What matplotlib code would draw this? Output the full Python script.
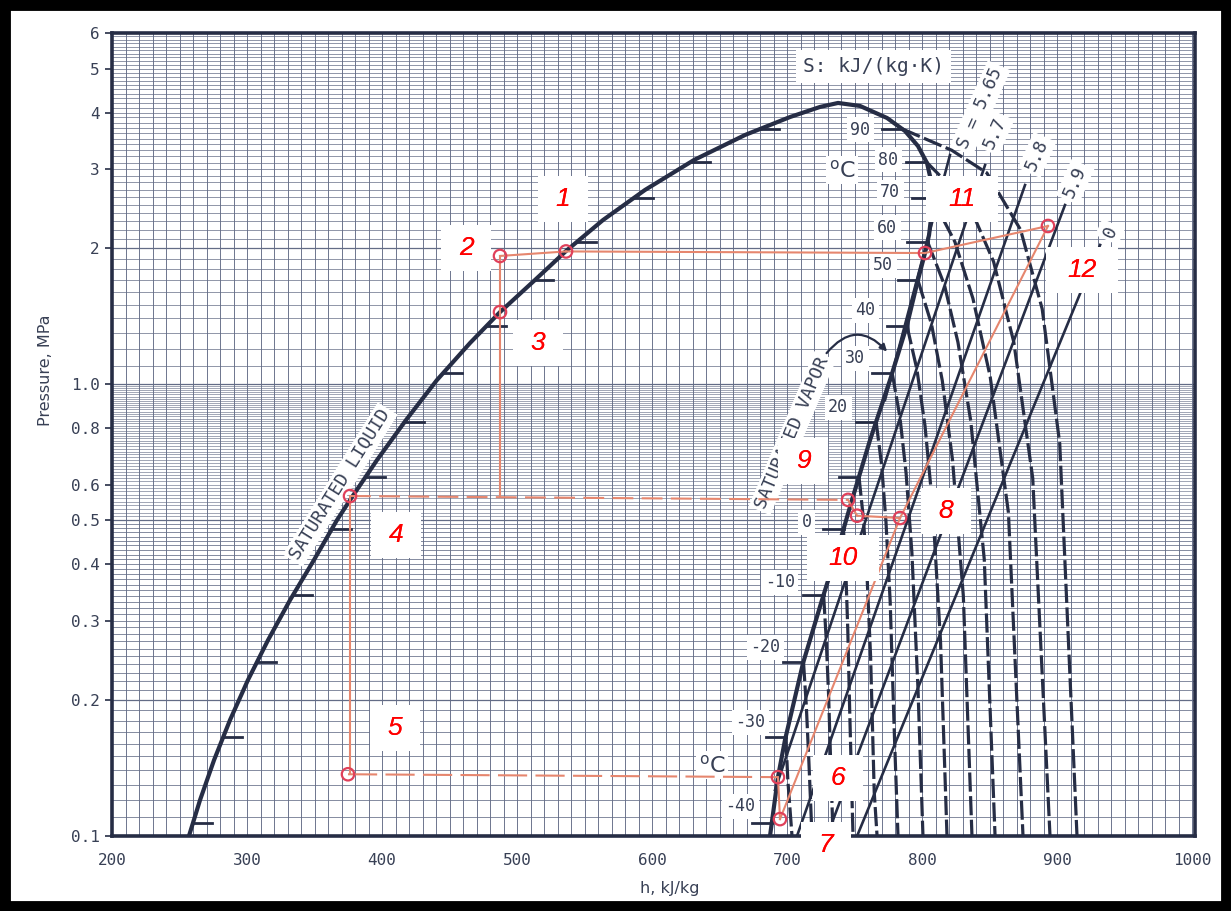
import numpy as np
import matplotlib
matplotlib.use("Agg")
import matplotlib.pyplot as plt
from matplotlib.patches import Rectangle
from matplotlib import transforms

# ---------------- data ----------------
# saturation dome (h in kJ/kg, P in MPa)
liq_h = [257.0, 265.2, 275.6, 287.4, 300.7, 315.6, 331.9, 349.6, 366.7, 377.8, 396.3, 417.8,
         440.7, 465.2, 487.4, 513.3, 536.3, 563.7, 594.8, 631.1, 668.9, 702.2, 724.4, 737.8]
liq_p = [0.100, 0.1201, 0.1473, 0.1806, 0.2215, 0.2716, 0.3331, 0.4085, 0.5009, 0.5632, 0.6801,
         0.834, 1.0226, 1.235, 1.446, 1.703, 1.974, 2.312, 2.695, 3.140, 3.567, 3.909, 4.115, 4.200]
vap_h = [737.8, 754.1, 774.1, 787.4, 797.0, 803.7, 807.4, 807.4, 805.2, 802.2, 797.0, 788.9,
         776.3, 761.5, 748.1, 736.3, 725.9, 711.9, 698.5, 693.3, 687.4]
vap_p = [4.200, 4.136, 3.890, 3.640, 3.372, 3.092, 2.764, 2.433, 2.142, 1.954, 1.703, 1.354,
         1.0226, 0.7531, 0.5546, 0.4189, 0.3331, 0.2416, 0.1632, 0.1351, 0.100]

# saturation temperature marks
sat_T = [-40, -30, -20, -10, 0, 10, 20, 30, 40, 50, 60, 70, 80, 90]
sat_P = [0.107, 0.166, 0.243, 0.342, 0.478, 0.625, 0.827, 1.06, 1.35, 1.70, 2.07, 2.59, 3.11, 3.68]
# visible temperature labels (the 10 label is hidden under box 9 in the chart)
T_lab = ["-40", "-30", "-20", "-10", "0", "20", "30", "40", "50", "60", "70", "80", "90"]
T_lab_h = [665.2, 672.6, 683.7, 694.8, 714.8, 737.8, 750.4, 757.8, 771.1, 774.1, 776.3, 774.8, 754.1]
T_lab_p = [0.1165, 0.1788, 0.262, 0.365, 0.4958, 0.891, 1.144, 1.461, 1.838, 2.220, 2.667, 3.140, 3.659]

# isentropes (solid)
s_h = [[772.6, 820.7], [691.1, 846.7], [707.4, 876.3], [729.6, 905.9], [751.9, 931.9]]
s_p = [[0.9236, 3.221], [0.1264, 3.060], [0.100, 2.764], [0.100, 2.496], [0.100, 2.036]]
s_lab_text = ["S = 5.65", "5.7", "5.8", "5.9", "0"]
s_lab_h = [843.0, 854.1, 885.2, 913.3, 939.3]
s_lab_p = [4.09, 3.604, 3.222, 2.806, 2.176]

# isotherms (dashed), -30 ... 90 degC
iso_h = [[699.1, 700.6, 703.7],
         [712.2, 714.3, 716.2, 718.5],
         [727.1, 729.0, 730.8, 732.6, 734.1],
         [741.8, 743.6, 745.0, 746.4, 748.0, 748.9],
         [753.3, 756.7, 759.3, 761.9, 764.6, 766.7],
         [766.0, 770.1, 773.3, 776.4, 779.6, 782.2],
         [777.9, 783.6, 788.2, 792.5, 797.0, 800.7],
         [788.8, 796.2, 802.2, 807.8, 813.7, 818.5],
         [797.0, 807.0, 815.0, 822.6, 830.6, 837.0],
         [804.1, 816.6, 826.6, 836.1, 846.1, 854.1],
         [807.4, 824.3, 837.7, 850.5, 864.0, 874.8],
         [803.2, 835.0, 853.0, 868.0, 882.0, 894.8],
         [785.3, 822.0, 848.0, 873.0, 889.0, 902.0, 914.8]]
iso_p = [[0.166, 0.133, 0.10],
         [0.243, 0.194, 0.146, 0.10],
         [0.342, 0.274, 0.205, 0.137, 0.10],
         [0.478, 0.382, 0.287, 0.191, 0.125, 0.10],
         [0.625, 0.50, 0.375, 0.25, 0.125, 0.10],
         [0.827, 0.662, 0.496, 0.331, 0.165, 0.10],
         [1.06, 0.848, 0.636, 0.424, 0.212, 0.10],
         [1.35, 1.08, 0.81, 0.54, 0.27, 0.10],
         [1.70, 1.36, 1.02, 0.68, 0.34, 0.10],
         [2.07, 1.66, 1.24, 0.83, 0.41, 0.10],
         [2.59, 2.07, 1.55, 1.04, 0.52, 0.10],
         [3.11, 2.49, 1.87, 1.24, 0.62, 0.10],
         [3.68, 3.30, 2.94, 2.20, 1.47, 0.74, 0.10]]

# cycle state points
pt_names = ["1", "2", "3", "4", "5", "6", "7", "8", "9", "10", "11", "12"]
pt_h = [536.3, 487.4, 487.4, 376.3, 374.8, 693.3, 694.8, 783.7, 745.2, 751.9, 802.2, 893.3]
pt_p = [1.970, 1.925, 1.446, 0.566, 0.137, 0.135, 0.109, 0.506, 0.555, 0.512, 1.954, 2.243]
lab_h = [534.1, 462.2, 515.6, 410.4, 409.6, 737.8, 728.9, 817.8, 711.9, 741.5, 829.6, 918.5]
lab_p = [2.574, 2.004, 1.235, 0.464, 0.1734, 0.1344, 0.0955, 0.5244, 0.6766, 0.4126, 2.574, 1.792]

x_ticks = [200, 300, 400, 500, 600, 700, 800, 900, 1000]
y_ticks = [0.1, 0.2, 0.3, 0.4, 0.5, 0.6, 0.8, 1.0, 2, 3, 4, 5, 6]
y_tick_labels = ["0.1", "0.2", "0.3", "0.4", "0.5", "0.6", "0.8", "1.0", "2", "3", "4", "5", "6"]

# ---------------- figure ----------------
W, H = 1231, 911
fig = plt.figure(figsize=(W / 100, H / 100), dpi=100)
ax = fig.add_axes([112 / W, 1 - 836 / H, (1195 - 112) / W, (836 - 33) / H])
ax.set_yscale("log")
ax.set_xlim(200, 1002.2)
ax.set_ylim(0.1, 6)

navy = "#262d45"
grid_c = "#636c86"
txt_c = "#384055"

# grid
for xv in range(200, 1001, 10):
    ax.axvline(xv, color=grid_c, lw=0.65, zorder=1)
for k in range(10, 100):
    ax.axhline(k / 100, color=grid_c, lw=0.42 if k > 50 else 0.55, zorder=1)
for k in range(10, 61):
    ax.axhline(k / 10, color=grid_c, lw=0.5, zorder=1)
for yv in [0.2, 0.5, 1.0, 2.0]:
    ax.axhline(yv, color=grid_c, lw=0.9, zorder=1)

for sp in ax.spines.values():
    sp.set_color(navy)
    sp.set_linewidth(2.6)

ax.set_xticks(x_ticks)
ax.set_xticklabels([str(v) for v in x_ticks])
ax.set_yticks(y_ticks)
ax.set_yticklabels(y_tick_labels)
ax.yaxis.set_minor_locator(matplotlib.ticker.NullLocator())
ax.tick_params(axis="x", length=0, pad=12, labelsize=11.5, labelcolor=txt_c)
ax.tick_params(axis="y", length=5, width=1.2, color=navy, pad=4, labelsize=11.5, labelcolor=txt_c)
for lab in ax.get_xticklabels() + ax.get_yticklabels():
    lab.set_family("DejaVu Sans Mono")

fig.text(45 / W, 1 - 370 / H, "Pressure, MPa", rotation=90, ha="center", va="center",
         fontsize=11.5, color=txt_c)
fig.text(670 / W, 1 - 888 / H, "h, kJ/kg", ha="center", va="center", fontsize=11.5, color=txt_c)

# saturation dome
ax.plot(liq_h + vap_h[1:], liq_p + vap_p[1:], color=navy, lw=3.0, zorder=6,
        solid_capstyle="round", solid_joinstyle="round")

# saturation temperature ticks
lgl = np.log10(liq_p)
lgv = np.log10(vap_p[::-1])
for T, Pv in zip(sat_T, sat_P):
    hl = np.interp(np.log10(Pv), lgl, liq_h)
    hv = np.interp(np.log10(Pv), lgv, vap_h[::-1])
    ax.plot([hl, hl + 14], [Pv, Pv], color=navy, lw=2.0, zorder=6)
    ax.plot([hv - 15, hv], [Pv, Pv], color=navy, lw=2.0, zorder=6)
for t, h, Pv in zip(T_lab, T_lab_h, T_lab_p):
    ax.text(h, Pv, t, ha="center", va="center", fontsize=12, color=txt_c,
            family="DejaVu Sans Mono",
            bbox=dict(facecolor="white", edgecolor="none", pad=2.5), zorder=8)
ax.text(740.7, 2.985, r"$^{\rm o}$C", ha="center", va="center", fontsize=16, color=txt_c,
        bbox=dict(facecolor="white", edgecolor="none", pad=2), zorder=8)
ax.text(644.4, 0.1436, r"$^{\rm o}$C", ha="center", va="center", fontsize=16, color=txt_c,
        bbox=dict(facecolor="white", edgecolor="none", pad=2), zorder=8)

# isentropes
for hs, ps in zip(s_h, s_p):
    ax.plot(hs, ps, color=navy, lw=1.9, zorder=4)
for t, h, Pv in zip(s_lab_text, s_lab_h, s_lab_p):
    ax.text(h, Pv, t, ha="center", va="center", rotation=66, fontsize=13, color=txt_c,
            family="DejaVu Sans Mono",
            bbox=dict(facecolor="white", edgecolor="none", pad=2.5), zorder=8)
ax.text(763.7, 5.07, "S: kJ/(kg\u00b7K)", ha="center", va="center", fontsize=14, color=txt_c,
        family="DejaVu Sans Mono", bbox=dict(facecolor="white", edgecolor="none", pad=5), zorder=8)

# isotherms
for hs, ps in zip(iso_h, iso_p):
    ax.plot(hs, ps, color=navy, lw=2.3, ls=(0, (6, 1.4)), zorder=3)

# saturated labels
ax.text(369.0, 0.60, "SATURATED LIQUID", rotation=58, ha="center", va="center", fontsize=13,
        color=txt_c, family="DejaVu Sans Mono",
        bbox=dict(facecolor="white", edgecolor="none", pad=2), zorder=7)
ax.text(704.0, 0.78, "SATURATED VAPOR", rotation=67, ha="center", va="center", fontsize=13,
        color=txt_c, family="DejaVu Sans Mono",
        bbox=dict(facecolor="white", edgecolor="none", pad=2), zorder=7)
ax.annotate("", xy=(775.5, 1.17), xytext=(728.0, 1.16),
            arrowprops=dict(arrowstyle="-|>", color=navy, lw=1.6,
                            connectionstyle="arc3,rad=-0.6"), zorder=7)

# ---------------- cycle ----------------
P = dict(zip(pt_names, zip(pt_h, pt_p)))
oc = "#e6866e"
def seg(a, b, ls="-"):
    ax.plot([a[0], b[0]], [a[1], b[1]], color=oc, lw=1.5, ls=ls, zorder=9)

seg(P["2"], P["1"]); seg(P["1"], P["11"])
seg(P["2"], P["3"]); seg(P["3"], (P["3"][0], P["4"][1]))
seg(P["4"], P["9"], ls=(0, (10, 4)))
seg(P["4"], (P["4"][0], P["5"][1]))
seg(P["5"], P["6"], ls=(0, (14, 4)))
seg(P["6"], P["7"]); seg(P["7"], P["8"]); seg(P["8"], P["12"]); seg(P["11"], P["12"])
seg(P["9"], P["10"]); seg(P["10"], P["8"])
ax.scatter(pt_h, pt_p, s=80, facecolors="none", edgecolors="#e0405a", linewidths=1.6, zorder=10)

# number labels in white boxes
for name, h, p in zip(pt_names, lab_h, lab_p):
    w = 0.50 if len(name) == 1 else 0.72
    tr = fig.dpi_scale_trans + transforms.ScaledTranslation(h, p, ax.transData)
    fig.patches.append(Rectangle((-w / 2, -0.23), w, 0.46, transform=tr,
                                 facecolor="white", edgecolor="none", zorder=20))
    fig.texts.append(fig.text(0, 0, name, transform=tr, ha="center", va="center",
                              fontsize=19, style="italic", color="#ff0000",
                              family="Liberation Sans", zorder=21))

# outer black frame
fig.patches.append(Rectangle((0, 0), 1, 1, transform=fig.transFigure, fill=False,
                             edgecolor="black", lw=15, zorder=30))

fig.savefig("out.png", dpi=100, facecolor="white")
